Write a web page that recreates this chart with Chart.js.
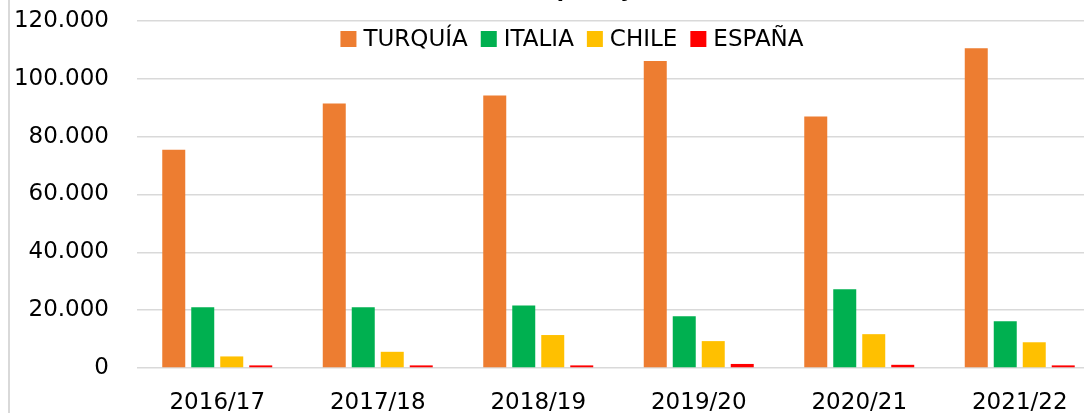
<!DOCTYPE html>
<html>
<head>
<meta charset="utf-8">
<script src="https://cdn.jsdelivr.net/npm/chart.js@4.4.0/dist/chart.umd.min.js"></script>
<style>
  html, body { margin: 0; padding: 0; background: #fff; overflow: hidden; }
  #wrap { position: relative; width: 1084px; height: 413px; overflow: hidden; }
  #edge { position: absolute; left: 8px; top: 0; width: 2px; height: 413px; background: #d9d9d9; }
  #chart { position: absolute; left: 0; top: 0; }
</style>
</head>
<body>
<div id="wrap">
  <canvas id="chart" width="1100" height="413"></canvas>
  <div id="edge"></div>
</div>
<script>
// campañas
const seasons = ['2016/17', '2017/18', '2018/19', '2019/20', '2020/21', '2021/22'];
// valores
const turquia = [75500, 91500, 94200, 106200, 87000, 110600];
const italia = [21000, 21000, 21600, 17900, 27200, 16200];
const chile = [4000, 5600, 11400, 9300, 11700, 8900];
const espana = [900, 900, 900, 1400, 1100, 900];
const titleText = '(t, peso y año)';

const FONT = 'DejaVu Sans';

function fmt(v) {
  return String(v).replace(/\B(?=(\d{3})+(?!\d))/g, '.');
}

// legend drawn inside the plot, like the original
const legendInside = {
  id: 'legendInside',
  afterDraw(chart) {
    const ctx = chart.ctx;
    ctx.save();
    ctx.font = '23px ' + FONT;
    ctx.textBaseline = 'middle';
    const items = chart.data.datasets.map(d => ({ label: d.label, color: d.backgroundColor, w: ctx.measureText(d.label).width }));
    const box = 16, gap = 7, spacing = 13;
    let total = 0;
    items.forEach((it, i) => { total += box + gap + it.w + (i < items.length - 1 ? spacing : 0); });
    let x = 572 - total / 2;
    const y = 39;
    items.forEach(it => {
      ctx.fillStyle = it.color;
      ctx.fillRect(x, y - 8, box, box);
      x += box + gap;
      ctx.fillStyle = '#000';
      ctx.fillText(it.label, x, y + 1);
      x += it.w + spacing;
    });
    // clipped title at the very top
    ctx.font = 'bold 21px ' + FONT;
    ctx.textAlign = 'center';
    ctx.textBaseline = 'alphabetic';
    ctx.fillText(titleText, 608, -3);
    ctx.restore();
  }
};

new Chart(document.getElementById('chart'), {
  type: 'bar',
  data: {
    labels: seasons,
    datasets: [
      { label: 'TURQUÍA', data: turquia, backgroundColor: '#ED7D31' },
      { label: 'ITALIA', data: italia, backgroundColor: '#00B050' },
      { label: 'CHILE', data: chile, backgroundColor: '#FFC000' },
      { label: 'ESPAÑA', data: espana, backgroundColor: '#FF0000' }
    ]
  },
  options: {
    responsive: false,
    animation: false,
    layout: { autoPadding: false, padding: { top: 21, left: 0, right: 0, bottom: 0 } },
    datasets: { bar: { categoryPercentage: 0.7227, barPercentage: 0.793 } },
    plugins: { legend: { display: false }, tooltip: { enabled: false } },
    scales: {
      x: {
        grid: { display: false, drawTicks: false },
        border: { display: false },
        ticks: { color: '#000', font: { family: FONT, size: 23 }, padding: 21, maxRotation: 0 },
        afterFit: s => { s.height = 45; }
      },
      y: {
        min: 0,
        max: 120000,
        grid: { color: '#d9d9d9', lineWidth: 1.5, drawTicks: false },
        border: { display: false },
        ticks: { stepSize: 20000, color: '#000', font: { family: FONT, size: 23 }, padding: 28, callback: v => fmt(v) },
        afterFit: s => { s.width = 137; s.paddingTop = 0; s.paddingBottom = 0; }
      }
    }
  },
  plugins: [legendInside]
});
</script>
</body>
</html>
